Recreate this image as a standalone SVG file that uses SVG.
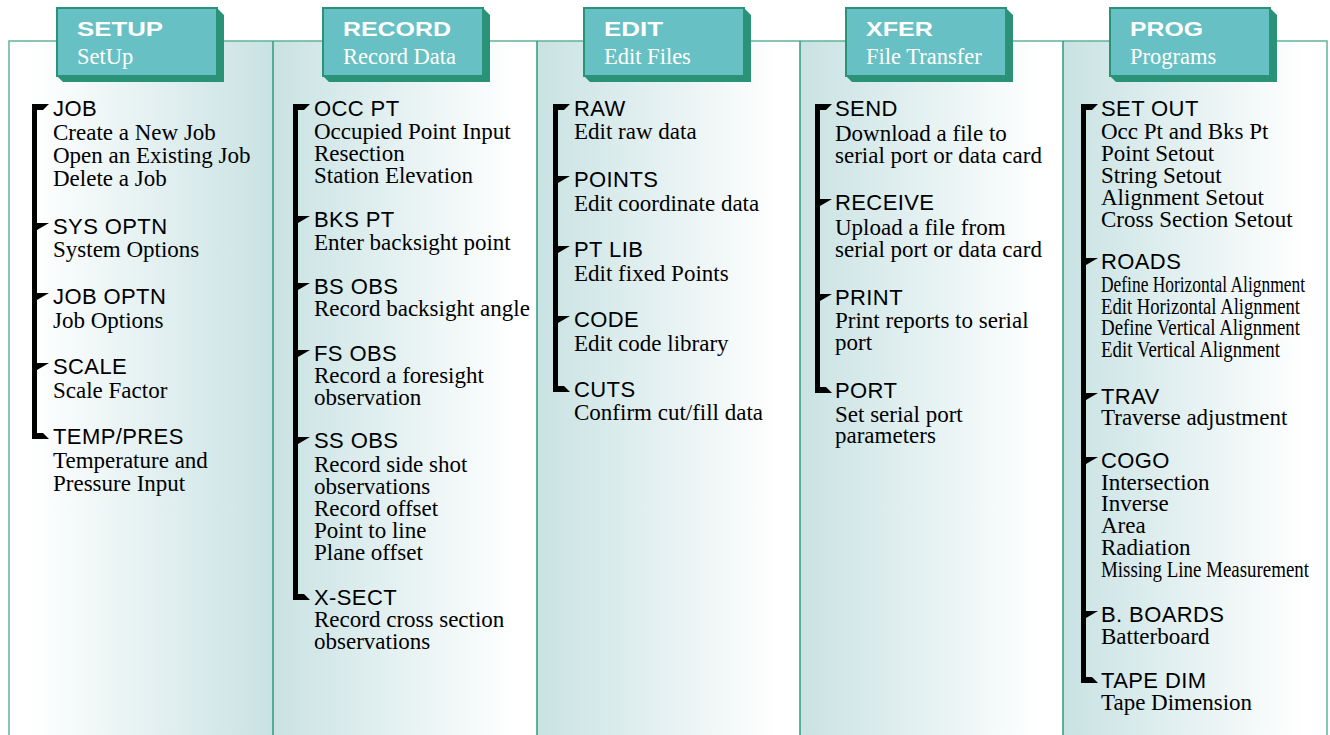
<svg xmlns="http://www.w3.org/2000/svg" width="1330" height="735" viewBox="0 0 1330 735">
<defs>
<linearGradient id="gW2T" x1="0" y1="0" x2="1" y2="0">
<stop offset="0" stop-color="#ffffff"/><stop offset="0.08" stop-color="#ffffff"/><stop offset="1" stop-color="#c9e2e3"/>
</linearGradient>
<linearGradient id="gT2W" x1="0" y1="0" x2="1" y2="0">
<stop offset="0" stop-color="#c9e2e3"/><stop offset="0.92" stop-color="#ffffff"/><stop offset="1" stop-color="#ffffff"/>
</linearGradient>
</defs>
<style>
.h{font-family:"Liberation Sans",Arial,sans-serif;font-size:22px;letter-spacing:0.4px;fill:#000}
.d{font-family:"Liberation Serif","Times New Roman",serif;font-size:23px;fill:#000}
.tb{font-family:"Liberation Sans",Arial,sans-serif;font-size:20px;font-weight:bold;fill:#fff}
.ts{font-family:"Liberation Serif","Times New Roman",serif;font-size:22.5px;fill:#fff}
.face{fill:#67c1c4;stroke:#2a9277;stroke-width:2}
.shadow{fill:#2a9277}
.bk{fill:#000}
.border{stroke:#5fb49b;stroke-width:1.5;fill:none}
.div{stroke:#2f9c7c;stroke-width:1.5;fill:none}
</style>
<rect width="1330" height="735" fill="#fff"/>
<g id="background">
<rect x="9" y="41" width="264" height="694" fill="url(#gW2T)"/>
<rect x="273" y="41" width="264" height="694" fill="url(#gT2W)"/>
<rect x="537" y="41" width="263" height="694" fill="url(#gT2W)"/>
<rect x="800" y="41" width="263" height="694" fill="url(#gT2W)"/>
<rect x="1063" y="41" width="264" height="694" fill="url(#gT2W)"/>
<path class="border" d="M9,735 V41 H1327 V735"/>
<path class="div" d="M273,41 V735 M537,41 V735 M800,41 V735 M1063,41 V735"/>
</g>
<g id="connectors">
<!-- SETUP bracket -->
<rect class="bk" x="32" y="104" width="5" height="335"/>
<polygon class="bk" points="32,104 49,104 43,110 37,110"/>
<polygon class="bk" points="37,223 49,223 37,230"/>
<polygon class="bk" points="37,293 49,293 37,300"/>
<polygon class="bk" points="37,363 49,363 37,370"/>
<polygon class="bk" points="37,433 43,433 49,439 32,439 32,433"/>
<!-- RECORD bracket -->
<rect class="bk" x="293" y="104" width="5" height="496"/>
<polygon class="bk" points="293,104 310,104 304,110 298,110"/>
<polygon class="bk" points="298,216 310,216 298,223"/>
<polygon class="bk" points="298,283 310,283 298,290"/>
<polygon class="bk" points="298,350 310,350 298,357"/>
<polygon class="bk" points="298,437 310,437 298,444"/>
<polygon class="bk" points="298,594 304,594 310,600 293,600 293,594"/>
<!-- EDIT bracket -->
<rect class="bk" x="553" y="104" width="5" height="288"/>
<polygon class="bk" points="553,104 570,104 564,110 558,110"/>
<polygon class="bk" points="558,176 570,176 558,183"/>
<polygon class="bk" points="558,246 570,246 558,253"/>
<polygon class="bk" points="558,316 570,316 558,323"/>
<polygon class="bk" points="558,386 564,386 570,392 553,392 553,386"/>
<!-- XFER bracket -->
<rect class="bk" x="815" y="104" width="5" height="289"/>
<polygon class="bk" points="815,104 832,104 826,110 820,110"/>
<polygon class="bk" points="820,199 832,199 820,206"/>
<polygon class="bk" points="820,294 832,294 820,301"/>
<polygon class="bk" points="820,387 826,387 832,393 815,393 815,387"/>
<!-- PROG bracket -->
<rect class="bk" x="1081" y="104" width="5" height="579"/>
<polygon class="bk" points="1081,104 1098,104 1092,110 1086,110"/>
<polygon class="bk" points="1086,258 1098,258 1086,265"/>
<polygon class="bk" points="1086,393 1098,393 1086,400"/>
<polygon class="bk" points="1086,457 1098,457 1086,464"/>
<polygon class="bk" points="1086,611 1098,611 1086,618"/>
<polygon class="bk" points="1086,677 1092,677 1098,683 1081,683 1081,677"/>
</g>
<g id="tab-setup">
<polygon class="shadow" points="217,8 224,15 224,82 63,82 57,76 217,76"/>
<rect class="face" x="57" y="8" width="160" height="68"/>
<text class="tb" x="77" y="36" textLength="86" lengthAdjust="spacingAndGlyphs">SETUP</text>
<text class="ts" x="77" y="64">SetUp</text>
</g>
<g id="tab-record">
<polygon class="shadow" points="483,8 490,15 490,82 329,82 323,76 483,76"/>
<rect class="face" x="323" y="8" width="160" height="68"/>
<text class="tb" x="343" y="36" textLength="108" lengthAdjust="spacingAndGlyphs">RECORD</text>
<text class="ts" x="343" y="64">Record Data</text>
</g>
<g id="tab-edit">
<polygon class="shadow" points="744,8 751,15 751,82 590,82 584,76 744,76"/>
<rect class="face" x="584" y="8" width="160" height="68"/>
<text class="tb" x="604" y="36" textLength="59" lengthAdjust="spacingAndGlyphs">EDIT</text>
<text class="ts" x="604" y="64">Edit Files</text>
</g>
<g id="tab-xfer">
<polygon class="shadow" points="1006,8 1013,15 1013,82 852,82 846,76 1006,76"/>
<rect class="face" x="846" y="8" width="160" height="68"/>
<text class="tb" x="866" y="36" textLength="67" lengthAdjust="spacingAndGlyphs">XFER</text>
<text class="ts" x="866" y="64">File Transfer</text>
</g>
<g id="tab-prog">
<polygon class="shadow" points="1270,8 1277,15 1277,82 1116,82 1110,76 1270,76"/>
<rect class="face" x="1110" y="8" width="160" height="68"/>
<text class="tb" x="1130" y="36" textLength="73" lengthAdjust="spacingAndGlyphs">PROG</text>
<text class="ts" x="1130" y="64">Programs</text>
</g>
<g id="setup-items">
<text class="h" x="53" y="116">JOB</text>
<text class="d" x="53" y="140">Create a New Job</text>
<text class="d" x="53" y="163">Open an Existing Job</text>
<text class="d" x="53" y="186">Delete a Job</text>
<text class="h" x="53" y="234">SYS OPTN</text>
<text class="d" x="53" y="257">System Options</text>
<text class="h" x="53" y="304">JOB OPTN</text>
<text class="d" x="53" y="328">Job Options</text>
<text class="h" x="53" y="374">SCALE</text>
<text class="d" x="53" y="398">Scale Factor</text>
<text class="h" x="53" y="444">TEMP/PRES</text>
<text class="d" x="53" y="468">Temperature and</text>
<text class="d" x="53" y="491">Pressure Input</text>
</g>
<g id="record-items">
<text class="h" x="314" y="116">OCC PT</text>
<text class="d" x="314" y="139">Occupied Point Input</text>
<text class="d" x="314" y="161">Resection</text>
<text class="d" x="314" y="183">Station Elevation</text>
<text class="h" x="314" y="227">BKS PT</text>
<text class="d" x="314" y="250">Enter backsight point</text>
<text class="h" x="314" y="294">BS OBS</text>
<text class="d" x="314" y="316">Record backsight angle</text>
<text class="h" x="314" y="361">FS OBS</text>
<text class="d" x="314" y="383">Record a foresight</text>
<text class="d" x="314" y="405">observation</text>
<text class="h" x="314" y="448">SS OBS</text>
<text class="d" x="314" y="472">Record side shot</text>
<text class="d" x="314" y="494">observations</text>
<text class="d" x="314" y="516">Record offset</text>
<text class="d" x="314" y="538">Point to line</text>
<text class="d" x="314" y="560">Plane offset</text>
<text class="h" x="314" y="605">X-SECT</text>
<text class="d" x="314" y="627">Record cross section</text>
<text class="d" x="314" y="649">observations</text>
</g>
<g id="edit-items">
<text class="h" x="574" y="116">RAW</text>
<text class="d" x="574" y="139">Edit raw data</text>
<text class="h" x="574" y="187">POINTS</text>
<text class="d" x="574" y="211">Edit coordinate data</text>
<text class="h" x="574" y="257">PT LIB</text>
<text class="d" x="574" y="281">Edit fixed Points</text>
<text class="h" x="574" y="327">CODE</text>
<text class="d" x="574" y="351">Edit code library</text>
<text class="h" x="574" y="397">CUTS</text>
<text class="d" x="574" y="420">Confirm cut/fill data</text>
</g>
<g id="xfer-items">
<text class="h" x="835" y="116">SEND</text>
<text class="d" x="835" y="141">Download a file to</text>
<text class="d" x="835" y="163">serial port or data card</text>
<text class="h" x="835" y="210">RECEIVE</text>
<text class="d" x="835" y="235">Upload a file from</text>
<text class="d" x="835" y="257">serial port or data card</text>
<text class="h" x="835" y="305">PRINT</text>
<text class="d" x="835" y="328">Print reports to serial</text>
<text class="d" x="835" y="350">port</text>
<text class="h" x="835" y="398">PORT</text>
<text class="d" x="835" y="422">Set serial port</text>
<text class="d" x="835" y="443">parameters</text>
</g>
<g id="prog-items">
<text class="h" x="1101" y="116">SET OUT</text>
<text class="d" x="1101" y="139">Occ Pt and Bks Pt</text>
<text class="d" x="1101" y="161">Point Setout</text>
<text class="d" x="1101" y="183">String Setout</text>
<text class="d" x="1101" y="205">Alignment Setout</text>
<text class="d" x="1101" y="227">Cross Section Setout</text>
<text class="h" x="1101" y="269">ROADS</text>
<text class="d" x="1101" y="292" textLength="204" lengthAdjust="spacingAndGlyphs">Define Horizontal Alignment</text>
<text class="d" x="1101" y="314" textLength="199" lengthAdjust="spacingAndGlyphs">Edit Horizontal Alignment</text>
<text class="d" x="1101" y="335" textLength="199" lengthAdjust="spacingAndGlyphs">Define Vertical Alignment</text>
<text class="d" x="1101" y="357" textLength="179" lengthAdjust="spacingAndGlyphs">Edit Vertical Alignment</text>
<text class="h" x="1101" y="404">TRAV</text>
<text class="d" x="1101" y="425">Traverse adjustment</text>
<text class="h" x="1101" y="468">COGO</text>
<text class="d" x="1101" y="490">Intersection</text>
<text class="d" x="1101" y="511">Inverse</text>
<text class="d" x="1101" y="533">Area</text>
<text class="d" x="1101" y="555">Radiation</text>
<text class="d" x="1101" y="577" textLength="208" lengthAdjust="spacingAndGlyphs">Missing Line Measurement</text>
<text class="h" x="1101" y="622">B. BOARDS</text>
<text class="d" x="1101" y="644">Batterboard</text>
<text class="h" x="1101" y="688">TAPE DIM</text>
<text class="d" x="1101" y="710">Tape Dimension</text>
</g>
</svg>
